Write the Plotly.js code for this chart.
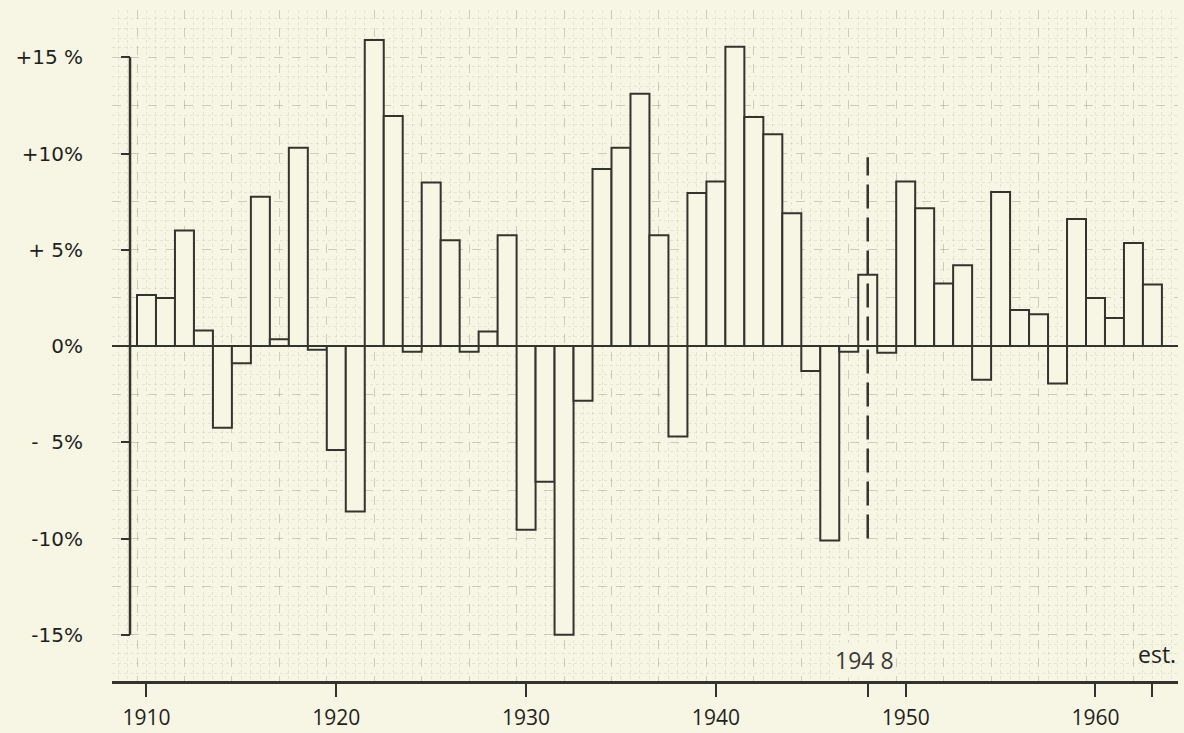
<!DOCTYPE html>
<html>
<head>
<meta charset="utf-8">
<script src="https://cdn.plot.ly/plotly-3.0.1.min.js"></script>
<style>
  html, body { margin: 0; padding: 0; background: #f7f5e3; }
  #chart { width: 1184px; height: 733px; }
</style>
</head>
<body>
<div id="chart"></div>
<script>
// ---- data ----
const years = [];
for (let y = 1910; y <= 1963; y++) years.push(y);

const changePct = [
  2.65, 2.5, 6.0, 0.8, -4.25, -0.9, 7.75, 0.35, 10.3, -0.2,     // 1910-1919
  -5.4, -8.6, 15.9, 11.95, -0.3, 8.5, 5.5, -0.3, 0.75, 5.75,    // 1920-1929
  -9.55, -7.05, -15.0, -2.85, 9.2, 10.3, 13.1, 5.75, -4.7, 7.95,// 1930-1939
  8.55, 15.55, 11.9, 11.0, 6.9, -1.3, -10.1, -0.3, 3.7, -0.35,  // 1940-1949
  8.55, 7.15, 3.25, 4.2, -1.75, 8.0, 1.87, 1.65, -1.95, 6.6,    // 1950-1959
  2.5, 1.45, 5.35, 3.2                                          // 1960-1963
];

const yTickVals = [-15, -10, -5, 0, 5, 10, 15];
const yTickText = ['-15%', '-10%', '-  5%', '0%', '+ 5%', '+10%', '+15 %'];

const xTickVals = [1910, 1920, 1930, 1940, 1948, 1950, 1960, 1963];
const xTickText = ['1910', '1920', '1930', '1940', '', '1950', '1960', ''];

const splitYear = 1948;
const splitLabel = '194 8';
const estLabel = 'est.';
const splitRange = [-10, 9.8];

// ---- style ----
const BG = '#f7f5e3';
const INK = '#34342f';
const TXT = '#1f1f1d';
const FONT = '"Open Sans", "DejaVu Sans", sans-serif';
const YFONT = '"DejaVu Sans", "Open Sans", sans-serif';
const X_RANGE = [1908.183, 1964.347];
const Y_RANGE = [-17.403, 17.455];
const Y_AXIS_POS = 0.0169;

const bars = {
  type: 'bar',
  x: years,
  y: changePct,
  xaxis: 'x',
  yaxis: 'y',
  marker: { color: BG, line: { color: INK, width: 2 } },
  hoverinfo: 'x+y',
  showlegend: false
};

// invisible trace so that the graph-paper grid axes are drawn
const gridHolder = {
  type: 'scatter',
  x: [years[0]],
  y: [0],
  xaxis: 'x2',
  yaxis: 'y2',
  mode: 'markers',
  marker: { opacity: 0 },
  hoverinfo: 'skip',
  showlegend: false
};

const gridMajor = 'rgba(110,110,100,0.30)';
const gridMinor = 'rgba(110,110,100,0.13)';

const layout = {
  width: 1184,
  height: 733,
  margin: { l: 112, r: 6, t: 10, b: 52 },
  paper_bgcolor: BG,
  plot_bgcolor: BG,
  bargap: 0,
  showlegend: false,
  font: { family: FONT, color: TXT },
  xaxis: {
    range: X_RANGE,
    anchor: 'y',
    tickmode: 'array',
    tickvals: xTickVals,
    ticktext: xTickText,
    ticks: 'outside',
    ticklen: 13,
    tickwidth: 2,
    tickcolor: INK,
    showline: true,
    linecolor: INK,
    linewidth: 2.5,
    showgrid: false,
    zeroline: false,
    tickfont: { size: 21, family: FONT, color: TXT },
    ticklabelstandoff: 3
  },
  yaxis: {
    range: Y_RANGE,
    anchor: 'free',
    position: Y_AXIS_POS,
    tickmode: 'array',
    tickvals: yTickVals,
    ticktext: yTickText,
    ticks: 'outside',
    ticklen: 9,
    tickwidth: 2,
    tickcolor: INK,
    showline: false,
    showgrid: false,
    zeroline: true,
    zerolinecolor: INK,
    zerolinewidth: 2.5,
    tickfont: { size: 20, family: YFONT, color: TXT },
    ticklabelstandoff: 34
  },
  xaxis2: {
    overlaying: 'x',
    anchor: 'y2',
    range: X_RANGE,
    tick0: 1912,
    dtick: 2.5,
    showticklabels: false,
    ticks: '',
    showline: false,
    zeroline: false,
    showgrid: true,
    gridcolor: gridMajor,
    gridwidth: 1,
    griddash: 'dash',
    minor: { dtick: 0.5, showgrid: true, gridcolor: gridMinor, griddash: 'dot', gridwidth: 1 }
  },
  yaxis2: {
    overlaying: 'y',
    anchor: 'x2',
    range: Y_RANGE,
    tick0: 0,
    dtick: 2.5,
    showticklabels: false,
    ticks: '',
    showline: false,
    zeroline: false,
    showgrid: true,
    gridcolor: gridMajor,
    gridwidth: 1,
    griddash: 'dash',
    minor: { dtick: 0.5, showgrid: true, gridcolor: gridMinor, griddash: 'dot', gridwidth: 1 }
  },
  shapes: [
    { // left value axis, spanning the labelled range only
      type: 'line', xref: 'paper', yref: 'y',
      x0: Y_AXIS_POS, x1: Y_AXIS_POS,
      y0: Math.min(...yTickVals), y1: Math.max(...yTickVals),
      line: { color: INK, width: 2.5 }, layer: 'above'
    },
    { // dashed divider at 1948
      type: 'line', xref: 'x', yref: 'y',
      x0: splitYear, x1: splitYear, y0: splitRange[0], y1: splitRange[1],
      line: { color: INK, width: 2.5, dash: '24px,9px' }, layer: 'above'
    }
  ],
  annotations: [
    {
      text: splitLabel, xref: 'x', yref: 'y', x: splitYear - 0.15, y: -16.3,
      showarrow: false, font: { size: 23, family: FONT, color: '#3a3a36' },
      bgcolor: BG
    },
    {
      text: estLabel, xref: 'paper', yref: 'y', x: 1.0, y: -16.0,
      xanchor: 'right', showarrow: false,
      font: { size: 23, family: FONT, color: TXT }
    }
  ]
};

Plotly.newPlot('chart', [bars, gridHolder], layout, { displayModeBar: false, staticPlot: true });
</script>
</body>
</html>
